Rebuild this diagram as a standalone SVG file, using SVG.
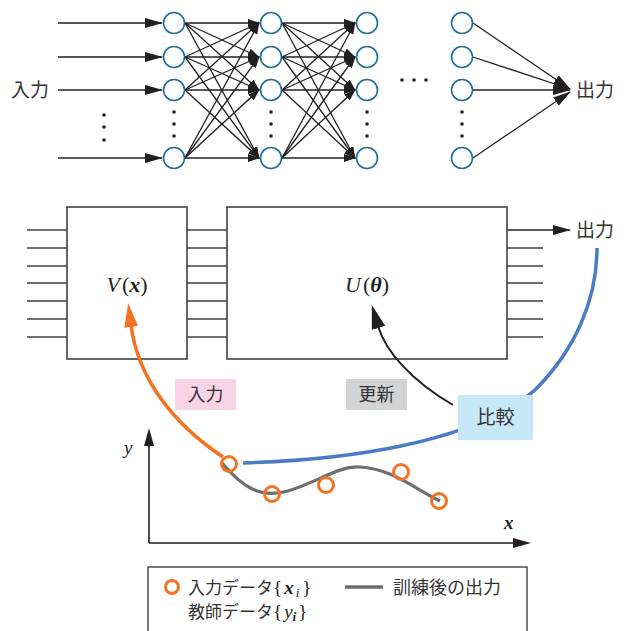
<svg xmlns="http://www.w3.org/2000/svg" width="628" height="631" viewBox="0 0 628 631">
<style>
.jp{font-family:"Noto Sans CJK JP","Noto Sans",sans-serif;fill:#333;}
.math{font-family:"Liberation Serif","DejaVu Serif",serif;fill:#231f20;}
.node{fill:#fff;stroke:#1f6f9c;stroke-width:1.6;}
.ln{stroke:#231f20;stroke-width:1.3;fill:none;}
.box{fill:#fff;stroke:#404040;stroke-width:1.6;}
.wire{stroke:#404040;stroke-width:1.5;}
.dot{fill:#231f20;}
.pt{fill:none;stroke:#f37321;stroke-width:3;}
</style>
<defs>
<marker id="ah" markerUnits="userSpaceOnUse" markerWidth="12" markerHeight="8" refX="11" refY="4" orient="auto"><path d="M0,0 L12,4 L0,8 Z" fill="#231f20"/></marker>
<marker id="ahL" markerUnits="userSpaceOnUse" markerWidth="18" markerHeight="10" refX="17" refY="5" orient="auto"><path d="M0,0 L18,5 L0,10 Z" fill="#231f20"/></marker>
<marker id="ahO" markerUnits="userSpaceOnUse" markerWidth="24" markerHeight="14" refX="2" refY="7" orient="auto"><path d="M0,0 L24,7 L0,14 Z" fill="#f37321"/></marker>
<marker id="ahK" markerUnits="userSpaceOnUse" markerWidth="24" markerHeight="14" refX="2" refY="7" orient="auto"><path d="M0,0 L24,7 L0,14 Z" fill="#231f20"/></marker>
</defs>

<!-- Top neural network -->
<g id="connectors">
<g id="inputs">
<line class="ln" x1="58" y1="23" x2="162" y2="23" marker-end="url(#ahL)"/>
<line class="ln" x1="58" y1="57" x2="162" y2="57" marker-end="url(#ahL)"/>
<line class="ln" x1="58" y1="90" x2="162" y2="90" marker-end="url(#ahL)"/>
<line class="ln" x1="58" y1="158" x2="162" y2="158" marker-end="url(#ahL)"/>
</g>
<g id="layer1to2">
<line class="ln" x1="185" y1="23" x2="259" y2="23" marker-end="url(#ah)"/>
<line class="ln" x1="185" y1="23" x2="259" y2="57" marker-end="url(#ah)"/>
<line class="ln" x1="185" y1="23" x2="259" y2="90" marker-end="url(#ah)"/>
<line class="ln" x1="185" y1="23" x2="259" y2="158" marker-end="url(#ah)"/>
<line class="ln" x1="185" y1="57" x2="259" y2="23" marker-end="url(#ah)"/>
<line class="ln" x1="185" y1="57" x2="259" y2="57" marker-end="url(#ah)"/>
<line class="ln" x1="185" y1="57" x2="259" y2="90" marker-end="url(#ah)"/>
<line class="ln" x1="185" y1="57" x2="259" y2="158" marker-end="url(#ah)"/>
<line class="ln" x1="185" y1="90" x2="259" y2="23" marker-end="url(#ah)"/>
<line class="ln" x1="185" y1="90" x2="259" y2="57" marker-end="url(#ah)"/>
<line class="ln" x1="185" y1="90" x2="259" y2="90" marker-end="url(#ah)"/>
<line class="ln" x1="185" y1="90" x2="259" y2="158" marker-end="url(#ah)"/>
<line class="ln" x1="185" y1="158" x2="259" y2="23" marker-end="url(#ah)"/>
<line class="ln" x1="185" y1="158" x2="259" y2="57" marker-end="url(#ah)"/>
<line class="ln" x1="185" y1="158" x2="259" y2="90" marker-end="url(#ah)"/>
<line class="ln" x1="185" y1="158" x2="259" y2="158" marker-end="url(#ah)"/>
</g>
<g id="layer2to3">
<line class="ln" x1="282" y1="23" x2="355" y2="23" marker-end="url(#ah)"/>
<line class="ln" x1="282" y1="23" x2="355" y2="57" marker-end="url(#ah)"/>
<line class="ln" x1="282" y1="23" x2="355" y2="90" marker-end="url(#ah)"/>
<line class="ln" x1="282" y1="23" x2="355" y2="158" marker-end="url(#ah)"/>
<line class="ln" x1="282" y1="57" x2="355" y2="23" marker-end="url(#ah)"/>
<line class="ln" x1="282" y1="57" x2="355" y2="57" marker-end="url(#ah)"/>
<line class="ln" x1="282" y1="57" x2="355" y2="90" marker-end="url(#ah)"/>
<line class="ln" x1="282" y1="57" x2="355" y2="158" marker-end="url(#ah)"/>
<line class="ln" x1="282" y1="90" x2="355" y2="23" marker-end="url(#ah)"/>
<line class="ln" x1="282" y1="90" x2="355" y2="57" marker-end="url(#ah)"/>
<line class="ln" x1="282" y1="90" x2="355" y2="90" marker-end="url(#ah)"/>
<line class="ln" x1="282" y1="90" x2="355" y2="158" marker-end="url(#ah)"/>
<line class="ln" x1="282" y1="158" x2="355" y2="23" marker-end="url(#ah)"/>
<line class="ln" x1="282" y1="158" x2="355" y2="57" marker-end="url(#ah)"/>
<line class="ln" x1="282" y1="158" x2="355" y2="90" marker-end="url(#ah)"/>
<line class="ln" x1="282" y1="158" x2="355" y2="158" marker-end="url(#ah)"/>
</g>
<g id="outputs">
<line class="ln" x1="473" y1="23" x2="570" y2="89" marker-end="url(#ahL)"/>
<line class="ln" x1="473" y1="57" x2="570" y2="89" marker-end="url(#ahL)"/>
<line class="ln" x1="473" y1="90" x2="570" y2="90" marker-end="url(#ahL)"/>
<line class="ln" x1="473" y1="158" x2="570" y2="92" marker-end="url(#ahL)"/>
</g>
</g>

<g id="nodes-col1">
<circle class="node" cx="174" cy="23" r="10.5"/><circle class="node" cx="174" cy="57" r="10.5"/><circle class="node" cx="174" cy="90" r="10.5"/><circle class="node" cx="174" cy="158" r="10.5"/>
</g>
<g id="nodes-col2">
<circle class="node" cx="271" cy="23" r="10.5"/><circle class="node" cx="271" cy="57" r="10.5"/><circle class="node" cx="271" cy="90" r="10.5"/><circle class="node" cx="271" cy="158" r="10.5"/>
</g>
<g id="nodes-col3">
<circle class="node" cx="367" cy="23" r="10.5"/><circle class="node" cx="367" cy="57" r="10.5"/><circle class="node" cx="367" cy="90" r="10.5"/><circle class="node" cx="367" cy="158" r="10.5"/>
</g>
<g id="nodes-col4">
<circle class="node" cx="462" cy="23" r="10.5"/><circle class="node" cx="462" cy="57" r="10.5"/><circle class="node" cx="462" cy="90" r="10.5"/><circle class="node" cx="462" cy="158" r="10.5"/>
</g>
<g id="ellipses">
<circle class="dot" cx="104" cy="115" r="1.8"/><circle class="dot" cx="104" cy="127" r="1.8"/><circle class="dot" cx="104" cy="140" r="1.8"/>
<circle class="dot" cx="174" cy="112" r="1.8"/><circle class="dot" cx="174" cy="124" r="1.8"/><circle class="dot" cx="174" cy="136" r="1.8"/>
<circle class="dot" cx="271" cy="112" r="1.8"/><circle class="dot" cx="271" cy="124" r="1.8"/><circle class="dot" cx="271" cy="136" r="1.8"/>
<circle class="dot" cx="367" cy="112" r="1.8"/><circle class="dot" cx="367" cy="124" r="1.8"/><circle class="dot" cx="367" cy="136" r="1.8"/>
<circle class="dot" cx="462" cy="112" r="1.8"/><circle class="dot" cx="462" cy="124" r="1.8"/><circle class="dot" cx="462" cy="136" r="1.8"/>
<circle class="dot" cx="402" cy="80" r="1.8"/><circle class="dot" cx="414" cy="80" r="1.8"/><circle class="dot" cx="426" cy="80" r="1.8"/>
</g>
<g id="label-in-top"><text class="jp" x="11" y="97" font-size="19">入力</text></g>
<g id="label-out-top"><text class="jp" x="576" y="97" font-size="19">出力</text></g>

<!-- Middle block diagram -->
<g id="wires">
<g class="wire">
<line x1="27" y1="230" x2="67" y2="230"/><line x1="27" y1="248" x2="67" y2="248"/><line x1="27" y1="266" x2="67" y2="266"/><line x1="27" y1="283" x2="67" y2="283"/><line x1="27" y1="301" x2="67" y2="301"/><line x1="27" y1="319" x2="67" y2="319"/><line x1="27" y1="337" x2="67" y2="337"/>
<line x1="187" y1="230" x2="227" y2="230"/><line x1="187" y1="248" x2="227" y2="248"/><line x1="187" y1="266" x2="227" y2="266"/><line x1="187" y1="283" x2="227" y2="283"/><line x1="187" y1="301" x2="227" y2="301"/><line x1="187" y1="319" x2="227" y2="319"/><line x1="187" y1="337" x2="227" y2="337"/>
<line x1="507" y1="248" x2="543" y2="248"/><line x1="507" y1="266" x2="543" y2="266"/><line x1="507" y1="283" x2="543" y2="283"/><line x1="507" y1="301" x2="543" y2="301"/><line x1="507" y1="319" x2="543" y2="319"/><line x1="507" y1="337" x2="543" y2="337"/>
</g>
<line x1="507" y1="230" x2="570" y2="230" stroke="#231f20" stroke-width="1.5" marker-end="url(#ahL)"/>
</g>
<g id="box-V">
<rect class="box" x="67" y="207" width="120" height="152"/>
<text class="math" x="127" y="292" font-size="22" text-anchor="middle"><tspan font-style="italic">V</tspan><tspan dx="2">(</tspan><tspan font-style="italic" font-weight="bold">x</tspan>)</text>
</g>
<g id="box-U">
<rect class="box" x="227" y="207" width="280" height="152"/>
<text class="math" x="367" y="292" font-size="22" text-anchor="middle"><tspan font-style="italic">U</tspan><tspan dx="2">(</tspan><tspan font-style="italic" font-weight="bold">θ</tspan>)</text>
</g>
<g id="label-out-mid"><text class="jp" x="576" y="237" font-size="19">出力</text></g>

<!-- Flow arrows -->
<g id="flows">
<path d="M243 463 C 340 460, 470 445, 535 390 C 575 350, 597 300, 597 248" fill="none" stroke="#4a7bc3" stroke-width="3.5"/>
<path d="M223 457 C 175 425, 138 380, 131 325" fill="none" stroke="#f37321" stroke-width="3.5" marker-end="url(#ahO)"/>
<path d="M453 405 C 410 380, 385 350, 378 326" fill="none" stroke="#231f20" stroke-width="2" marker-end="url(#ahK)"/>
</g>
<g id="tag-input"><rect x="175" y="379" width="61" height="31" fill="#f8d4e6"/><text class="jp" x="205.5" y="401" font-size="18" text-anchor="middle">入力</text></g>
<g id="tag-update"><rect x="346" y="379" width="61" height="31" fill="#d1d3d4"/><text class="jp" x="376.5" y="401" font-size="18" text-anchor="middle">更新</text></g>
<g id="tag-compare"><rect x="458" y="395" width="75" height="45" fill="#c7e8f8"/><text class="jp" x="495.5" y="424" font-size="19" text-anchor="middle">比較</text></g>

<!-- Plot -->
<g id="plot">
<line x1="149" y1="543" x2="149" y2="444" stroke="#231f20" stroke-width="1.6"/>
<path d="M149 428 L144 446 L154 446 Z" fill="#231f20"/>
<line x1="149" y1="543" x2="514" y2="543" stroke="#231f20" stroke-width="1.6"/>
<path d="M531 543 L513 538 L513 548 Z" fill="#231f20"/>
<text class="math" x="124" y="454" font-size="19" font-style="italic">y</text>
<text class="math" x="504" y="529" font-size="19" font-style="italic" font-weight="bold">x</text>
<path d="M222 463 C 245 490, 262 498, 288 491 C 318 482, 338 466, 360 467 C 392 469, 412 487, 440 501" fill="none" stroke="#6d6e71" stroke-width="3.2"/>
<circle class="pt" cx="229" cy="464" r="7.5"/>
<circle class="pt" cx="272" cy="494" r="7.5"/>
<circle class="pt" cx="326" cy="485" r="7.5"/>
<circle class="pt" cx="401" cy="472" r="7.5"/>
<circle class="pt" cx="439" cy="501" r="7.5"/>
</g>

<!-- Legend -->
<g id="legend">
<rect x="148" y="567" width="379" height="80" fill="#fff" stroke="#404040" stroke-width="1.4"/>
<circle class="pt" cx="172" cy="587" r="6.5"/>
<text class="jp" x="188" y="594" font-size="17">入力データ<tspan class="math" font-size="19">{</tspan><tspan class="math" font-size="19" font-style="italic" font-weight="bold" dx="2">x</tspan><tspan class="math" font-size="13" font-style="italic" dx="2" dy="3">i</tspan><tspan class="math" font-size="19" dx="3" dy="-3">}</tspan></text>
<text class="jp" x="188" y="618" font-size="17">教師データ<tspan class="math" font-size="19">{</tspan><tspan class="math" font-size="19" font-style="italic" dx="2">y</tspan><tspan class="math" font-size="13" font-style="italic" font-weight="bold" dy="3">i</tspan><tspan class="math" font-size="19" dx="2" dy="-3">}</tspan></text>
<line x1="345" y1="587" x2="383" y2="587" stroke="#6d6e71" stroke-width="3.5"/>
<text class="jp" x="393" y="594" font-size="18">訓練後の出力</text>
</g>
</svg>
